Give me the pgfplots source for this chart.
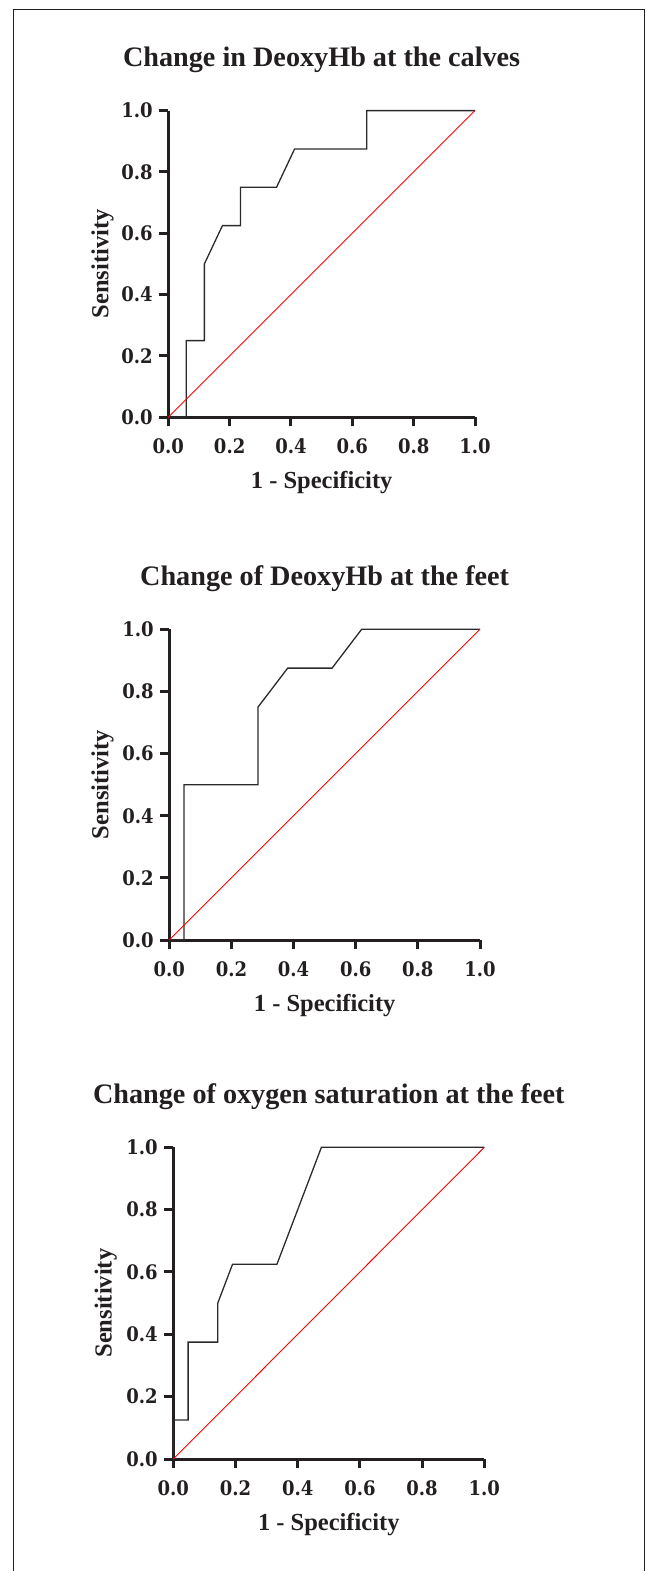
\documentclass[border=0pt]{standalone}
\usepackage{fontspec}
\setmainfont{Liberation Serif}
\newfontfamily\tickfont{DejaVu Serif Condensed}
\usepackage{pgfplots}
\usepackage{pgfplotstable}
\pgfplotsset{compat=1.18}

\definecolor{axisgray}{HTML}{231F20}
\definecolor{curvegray}{HTML}{2B2B2B}

% ROC curves, x = 1 - specificity, y = sensitivity
\pgfplotstableread{
x y
0      0
0.0588 0
0.0588 0.25
0.1176 0.25
0.1176 0.5
0.1765 0.625
0.2353 0.625
0.2353 0.75
0.3529 0.75
0.4118 0.875
0.6471 0.875
0.6471 1
1      1
}\calves

\pgfplotstableread{
x y
0      0
0.0476 0
0.0476 0.5
0.2857 0.5
0.2857 0.75
0.3810 0.875
0.5238 0.875
0.6190 1
1      1
}\feetdeoxy

\pgfplotstableread{
x y
0      0
0      0.125
0.0476 0.125
0.0476 0.375
0.1429 0.375
0.1429 0.5
0.1905 0.625
0.3333 0.625
0.4762 1
1      1
}\feetsat

\pgfplotsset{
  roc/.style={
    scale only axis,
    anchor=south west,
    xmin=0, xmax=1, ymin=0, ymax=1,
    axis lines=left,
    axis line style={-, line width=3pt, color=axisgray},
    tick style={line width=3pt, color=axisgray},
    tick align=outside,
    major tick length=9pt,
    xtick={0,0.2,0.4,0.6,0.8,1},
    ytick={0,0.2,0.4,0.6,0.8,1},
    /pgf/number format/fixed,
    /pgf/number format/fixed zerofill,
    /pgf/number format/precision=1,
    /pgf/number format/assume math mode=true,
    tick label style={font=\tickfont\bfseries\fontsize{20}{20}\selectfont, text=axisgray},
    xticklabel shift=9pt,
    yticklabel shift=3pt,
    title style={at={(axis description cs:0.5,1)}, anchor=base, yshift=38pt,
      font=\bfseries\fontsize{28.2}{30}\selectfont, text=axisgray},
    xlabel style={at={(axis description cs:0.5,0)}, anchor=base, yshift=-71pt,
      font=\bfseries\fontsize{24.5}{26}\selectfont, text=axisgray},
    ylabel style={anchor=base, font=\bfseries\fontsize{24.5}{26}\selectfont, text=axisgray},
    xlabel={1 - Specificity},
    ylabel={Sensitivity},
    clip=false,
  },
  curve/.style={color=curvegray, line width=1.3pt},
  chance/.style={color=red, line width=0.9pt},
}

\begin{document}
\begin{tikzpicture}
\useasboundingbox (0,0) rectangle (646pt,-1571pt);
\draw[line width=1pt, axisgray] (13.5pt,-1580pt) -- (13.5pt,-10pt) -- (644.3pt,-10pt) -- (644.3pt,-1580pt);

\begin{axis}[roc, at={(168.3pt,-417.3pt)}, width=306.7pt, height=306.7pt,
  title={Change in DeoxyHb at the calves},
  ylabel style={at={(axis description cs:-0.1956,0.5)}}]
  \addplot[curve] table[x=x, y=y] {\calves};
  \addplot[chance] coordinates {(0,0) (1,1)};
\end{axis}

\begin{axis}[roc, at={(169.3pt,-940pt)}, width=310.7pt, height=310.7pt,
  title={Change of DeoxyHb at the feet},
  ylabel style={at={(axis description cs:-0.1963,0.5)}}]
  \addplot[curve] table[x=x, y=y] {\feetdeoxy};
  \addplot[chance] coordinates {(0,0) (1,1)};
\end{axis}

\begin{axis}[roc, at={(173.3pt,-1459pt)}, width=311pt, height=311.7pt,
  title={Change of oxygen saturation at the feet},
  ylabel style={at={(axis description cs:-0.1987,0.5)}}]
  \addplot[curve] table[x=x, y=y] {\feetsat};
  \addplot[chance] coordinates {(0,0) (1,1)};
\end{axis}
\end{tikzpicture}
\end{document}
